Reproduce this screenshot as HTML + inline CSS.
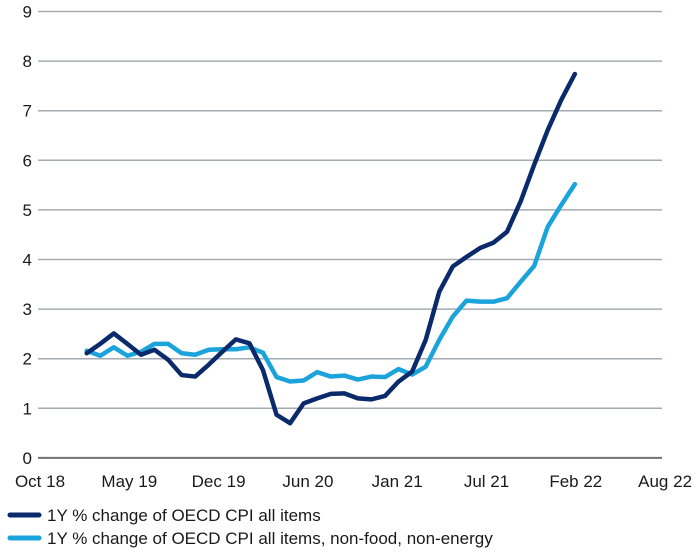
<!DOCTYPE html>
<html><head><meta charset="utf-8"><style>
html,body{margin:0;padding:0;background:#fff;}
svg text{font-family:"Liberation Sans",sans-serif;fill:#1a1a1a;}
</style></head><body>
<svg id="chart" width="700" height="550">
<g id="grid"></g>
<g id="ylab"></g>
<g id="xlab"></g>
<g id="series"></g>
<g>
<line x1="10" y1="515" x2="39" y2="515" stroke="#0a2a6b" stroke-width="5" stroke-linecap="round"/>
<text x="47" y="521" font-size="17">1Y % change of OECD CPI all items</text>
<line x1="10" y1="538" x2="39" y2="538" stroke="#1ba3dc" stroke-width="5" stroke-linecap="round"/>
<text x="47" y="544" font-size="17">1Y % change of OECD CPI all items, non-food, non-energy</text>
</g>
</svg>
<script>
const yTicks=[0,1,2,3,4,5,6,7,8,9];
const xTickLabels=["Oct 18","May 19","Dec 19","Jun 20","Jan 21","Jul 21","Feb 22","Aug 22"];
const cpiAll=[2.11,2.3,2.51,2.3,2.08,2.18,1.98,1.67,1.64,1.88,2.14,2.39,2.31,1.77,0.87,0.70,1.10,1.20,1.29,1.30,1.20,1.18,1.25,1.54,1.74,2.38,3.35,3.86,4.05,4.23,4.34,4.56,5.17,5.91,6.61,7.22,7.74];
const cpiCore=[2.16,2.06,2.23,2.06,2.14,2.30,2.30,2.11,2.08,2.18,2.19,2.19,2.23,2.12,1.63,1.54,1.56,1.73,1.64,1.66,1.58,1.64,1.63,1.79,1.68,1.84,2.38,2.85,3.17,3.15,3.15,3.22,3.55,3.87,4.66,5.1,5.52];
const NS="http://www.w3.org/2000/svg";
const y=v=>457.9-v*49.6;
const xi=i=>86.7+i*13.56;
const xl=i=>40+i*89.3;
function mk(tag,attrs,parent){const e=document.createElementNS(NS,tag);for(const k in attrs)e.setAttribute(k,attrs[k]);parent.appendChild(e);return e;}
const grid=document.getElementById('grid'),ylab=document.getElementById('ylab'),xlab=document.getElementById('xlab'),ser=document.getElementById('series');
yTicks.forEach(v=>{
  const l=mk('line',{x1:38,x2:662,y1:y(v),y2:y(v),stroke:v===0?'#6e747a':'#a4abb2','stroke-width':v===0?2:1.5},grid);
  
  
  const t=mk('text',{x:32,y:y(v)+6,'text-anchor':'end','font-size':17},ylab);
  t.textContent=v;
  
  
});
xTickLabels.forEach((s,i)=>{
  const t=mk('text',{x:xl(i),y:487,'text-anchor':'middle','font-size':17},xlab);
  t.textContent=s;
  
  
});
function line(data,color,name){
  const p=mk('polyline',{points:data.map((v,i)=>xi(i)+','+y(v)).join(' '),fill:'none',stroke:color,'stroke-width':4.5,'stroke-linejoin':'round','stroke-linecap':'round'},ser);
  
  
}
line(cpiCore,'#1ba3dc','series-core-cpi');
line(cpiAll,'#0a2a6b','series-all-items-cpi');
</script>
</body></html>
